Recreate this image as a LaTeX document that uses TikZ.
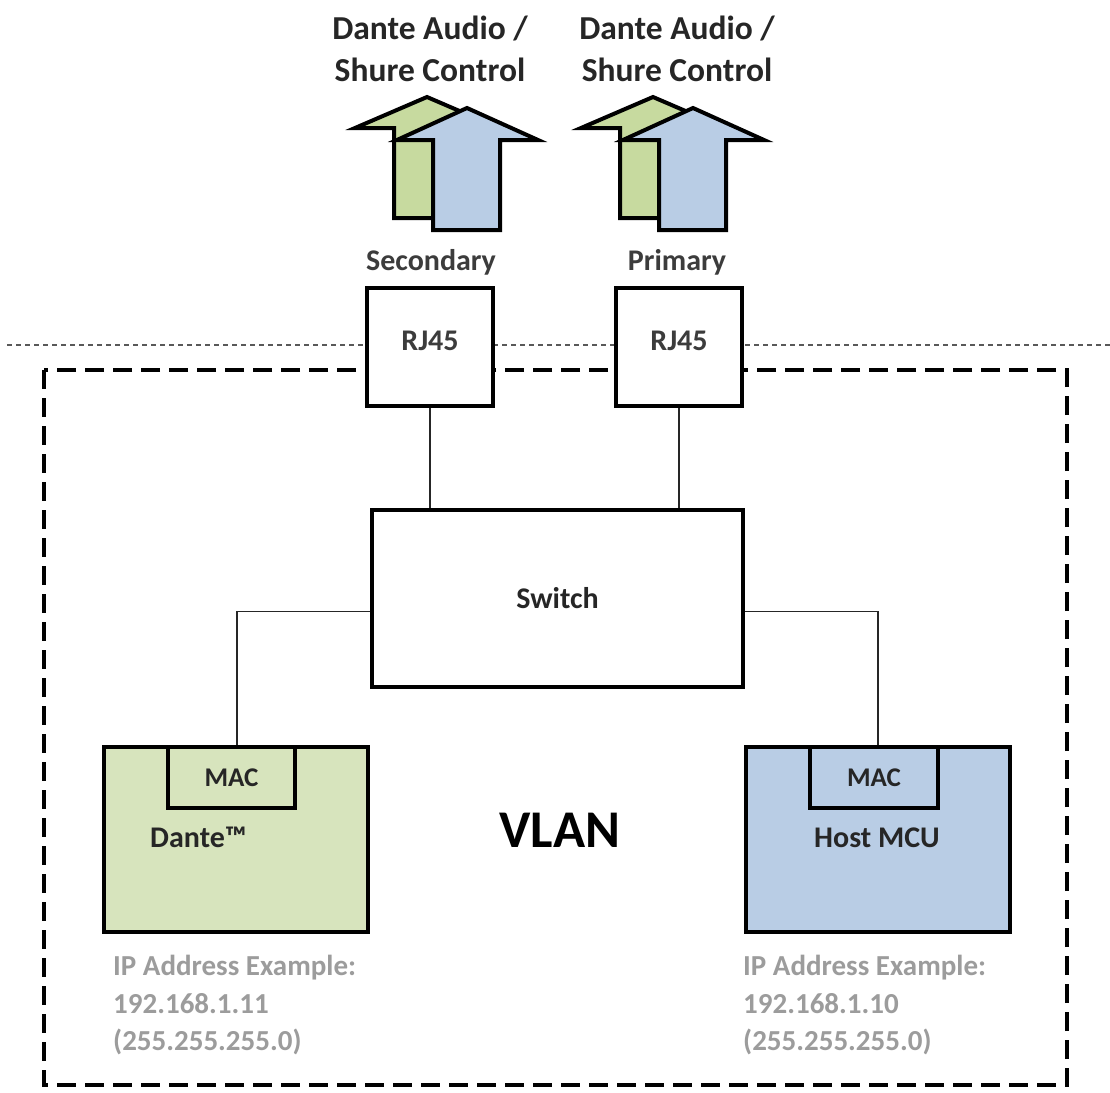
\documentclass[tikz,border=0pt]{standalone}
\usepackage{fontspec}
\setmainfont{Carlito}
\definecolor{lgreen}{HTML}{D7E4BD}
\definecolor{agreen}{HTML}{C7DA9F}
\definecolor{lblue}{HTML}{B9CDE5}
\definecolor{ablue}{HTML}{B9CDE5}
\definecolor{iptext}{HTML}{9C9C9C}
\definecolor{dark}{HTML}{262626}
\begin{document}
\begin{tikzpicture}[x=1pt,y=-1pt,
  box/.style={draw=black,line width=3.5pt,fill=white,inner sep=0pt,font=\bfseries\fontsize{30}{34}\selectfont,text=dark},
  wire/.style={line width=1.5pt,black!85},
  head/.style={font=\bfseries\fontsize{33.5}{42}\selectfont,text=dark,align=center},
  port/.style={font=\bfseries\fontsize{30}{34}\selectfont,text=dark!90},
  iplbl/.style={font=\bfseries\fontsize{29}{37.5}\selectfont,text=iptext,align=left,anchor=north west,inner sep=0pt},
  uparrow/.style={draw=black,line width=4pt,line join=miter}]
\useasboundingbox (0,0) rectangle (1110,1092);
\fill[white] (0,0) rectangle (1110,1092);

% separators
\draw[gray!70!black,line width=2pt,dash pattern=on 5pt off 4pt] (7,345) -- (1110,345);
\draw[black,line width=3.5pt,dash pattern=on 19pt off 9pt] (44,370) rectangle (1067,1085);

% headings
\node[head] (hL) at (430,49) {Dante Audio /\\Shure Control};
\node[head] (hR) at (677,49) {Dante Audio /\\Shure Control};

% arrows (left)
\begin{scope}
\filldraw[uparrow,fill=agreen] (427,97) -- (499,128) -- (460,128) -- (460,218) -- (394,218) -- (394,128) -- (355,128) -- cycle;
\filldraw[uparrow,fill=ablue] (467,108) -- (538,140) -- (500,140) -- (500,230) -- (433,230) -- (433,140) -- (397,140) -- cycle;
\end{scope}
\begin{scope}[xshift=226pt]
\filldraw[uparrow,fill=agreen] (427,97) -- (499,128) -- (460,128) -- (460,218) -- (394,218) -- (394,128) -- (355,128) -- cycle;
\filldraw[uparrow,fill=ablue] (467,108) -- (538,140) -- (500,140) -- (500,230) -- (433,230) -- (433,140) -- (397,140) -- cycle;
\end{scope}

\node[port] (secl) at (431,262) {Secondary};
\node[port] (priml) at (677,262) {Primary};

% RJ45 boxes
\node[box,minimum width=126pt,minimum height=118pt] (rjL) at (430,347) {};
\node[box,minimum width=126pt,minimum height=118pt] (rjR) at (679,347) {};
\node[port] (rjLt) at (430,341) {RJ45};
\node[port] (rjRt) at (679,341) {RJ45};

% switch
\node[box,minimum width=371pt,minimum height=177pt] (sw) at (557.5,598.5) {Switch};

% devices
\node[box,fill=lgreen,minimum width=264pt,minimum height=185pt] (dante) at (236,839.5) {};
\node[box,fill=lgreen,minimum width=127pt,minimum height=61pt,font=\bfseries\fontsize{27}{30}\selectfont] (macL) at (231.5,777.5) {MAC};
\node[anchor=west,font=\bfseries\fontsize{30}{34}\selectfont,text=dark,inner sep=0pt] (dantet) at (150,837) {Dante™};

\node[box,fill=lblue,minimum width=264pt,minimum height=185pt] (host) at (878,839.5) {};
\node[box,fill=lblue,minimum width=128pt,minimum height=61pt,font=\bfseries\fontsize{27}{30}\selectfont] (macR) at (874,777.5) {MAC};
\node[font=\bfseries\fontsize{30}{34}\selectfont,text=dark,inner sep=0pt] (hostt) at (877,838) {Host MCU};

\node[font=\bfseries\fontsize{53}{60}\selectfont,text=black] (vlan) at (560,830) {VLAN};

% IP labels
\node[iplbl] (ipL) at (113,955) {IP Address Example:\\192.168.1.11\\(255.255.255.0)};
\node[iplbl] (ipR) at (743,955) {IP Address Example:\\192.168.1.10\\(255.255.255.0)};

% connectors
\draw[wire] (rjL.south) -- (rjL.south |- sw.north);
\draw[wire] (rjR.south) -- (rjR.south |- sw.north);
\draw[wire] ([yshift=-13pt]sw.west) -| ([xshift=1pt]dante.north);
\draw[wire] ([yshift=-13pt]sw.east) -| (host.north);
\end{tikzpicture}
\end{document}
